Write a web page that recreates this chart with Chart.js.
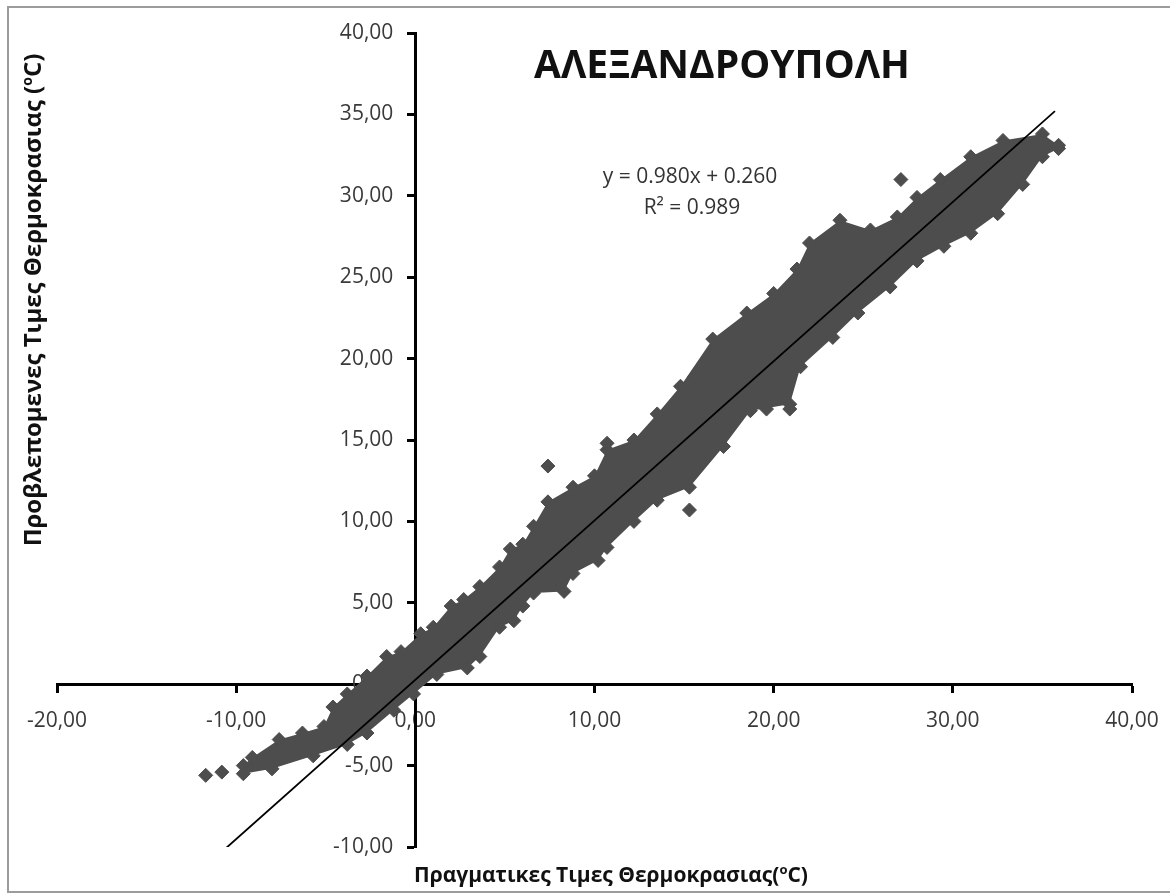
<!DOCTYPE html>
<html>
<head>
<meta charset="utf-8">
<script src="https://cdn.jsdelivr.net/npm/chart.js@4/dist/chart.umd.min.js"></script>
<style>
  html, body { margin: 0; padding: 0; background: #fff; }
  #wrap { width: 1170px; height: 895px; }
</style>
</head>
<body>
<div id="wrap"><canvas id="tempChart" width="1170" height="895"></canvas></div>
<script>
// upper edge of the point cloud (centres of the outermost diamonds)
const upperX = [-9.6, -9.1, -7.6, -6.3, -5.1, -4.6, -3.8, -2.7, -1.6, -0.8, 0.3, 1.0, 2.0, 2.7, 3.6, 4.7, 5.3, 6.0, 6.6, 7.4, 8.8, 10.0, 10.7, 12.2, 13.5, 14.8, 16.6, 18.5, 20.0, 21.3, 22.0, 23.7, 25.4, 26.9, 28.0, 29.3, 31.0, 32.8, 35.0, 35.9];
const upperY = [-5.0, -4.5, -3.4, -3.0, -2.6, -1.4, -0.6, 0.5, 1.7, 2.0, 3.1, 3.5, 4.8, 5.2, 6.0, 7.2, 8.3, 8.6, 9.7, 11.2, 12.1, 12.8, 14.4, 15.0, 16.6, 18.3, 21.2, 22.8, 24.0, 25.5, 27.1, 28.5, 27.9, 28.7, 29.9, 31.0, 32.4, 33.4, 33.8, 33.1];
// lower edge of the point cloud
const lowerX = [-9.6, -8.0, -5.7, -3.8, -2.7, -1.2, -0.1, 1.2, 2.9, 3.6, 4.7, 5.5, 6.0, 6.6, 8.3, 8.8, 10.2, 10.7, 12.2, 13.5, 15.3, 17.2, 18.7, 20.9, 21.5, 23.3, 24.7, 26.5, 28.0, 29.5, 31.0, 32.5, 33.9, 35.0, 35.9];
const lowerY = [-5.5, -5.2, -4.4, -3.7, -3.0, -1.6, -0.6, 0.6, 1.0, 1.7, 3.5, 3.9, 4.8, 5.6, 5.7, 6.8, 7.6, 8.4, 10.0, 11.3, 12.1, 14.6, 16.8, 17.2, 19.5, 21.3, 22.8, 24.4, 26.0, 26.9, 27.7, 28.9, 30.7, 32.4, 32.9];
// single points standing apart from the cloud
const outlierX = [-11.7, -10.8, 7.4, 10.7, 15.6, 15.3, 19.6, 20.9, 27.1];
const outlierY = [-5.6, -5.4, 13.4, 14.8, 18.9, 10.7, 16.9, 16.9, 31.0];
// trend line end points
const trendX = [-10.6, 35.7];
const trendY = [-10.1, 35.2];

const xTicks = [-20, -10, 0, 10, 20, 30, 40];
const yTicks = [-10, -5, 0, 5, 10, 15, 20, 25, 30, 35, 40];

const chartTitle = 'ΑΛΕΞΑΝΔΡΟΥΠΟΛΗ';
const equationLines = ['y = 0.980x + 0.260', 'R² = 0.989'];
const xTitle = ['Πραγματικες Τιμες Θερμοκρασιας(', 'C)'];
const yTitle = ['Προβλεπομενες Τιμες Θερμοκρασιας (', 'C)'];

const FONT = '"Open Sans", "Noto Sans", sans-serif';
const pointColor = '#4d4d4d';
const tickColor = '#3a3a3a';

const toPoints = (xs, ys) => xs.map((x, i) => ({ x: x, y: ys[i] }));
const fmt = v => v.toFixed(2).replace('.', ',');

// text with a small raised "o" between two parts, centred on x
function drawDegreeText(ctx, parts, x, y, size) {
    const small = Math.round(size * 0.6);
    ctx.font = 'bold ' + size + 'px ' + FONT;
    const w1 = ctx.measureText(parts[0]).width;
    const w3 = ctx.measureText(parts[1]).width;
    ctx.font = 'bold ' + small + 'px ' + FONT;
    const w2 = ctx.measureText('o').width;
    const left = x - (w1 + w2 + w3) / 2;
    ctx.textAlign = 'left';
    ctx.font = 'bold ' + size + 'px ' + FONT;
    ctx.fillText(parts[0], left, y);
    ctx.font = 'bold ' + small + 'px ' + FONT;
    ctx.fillText('o', left + w1, y - size * 0.38);
    ctx.font = 'bold ' + size + 'px ' + FONT;
    ctx.fillText(parts[1], left + w1 + w2, y);
}

const textPlugin = {
    id: 'chartText',
    beforeDraw(chart) {
        const ctx = chart.ctx;
        ctx.save();
        ctx.fillStyle = '#ffffff';
        ctx.fillRect(0, 0, chart.width, chart.height);
        ctx.strokeStyle = '#9c9c9c';
        ctx.lineWidth = 2;
        ctx.beginPath();
        ctx.moveTo(1170, 7);
        ctx.lineTo(8, 7);
        ctx.lineTo(8, 892);
        ctx.lineTo(1170, 892);
        ctx.stroke();
        ctx.restore();
    },
    // y tick labels sit left of the crossing axis, under the points
    beforeDatasetsDraw(chart) {
        const ctx = chart.ctx;
        const yScale = chart.scales.y;
        const axisX = chart.scales.x.getPixelForValue(0);
        ctx.save();
        ctx.font = '21px ' + FONT;
        ctx.fillStyle = tickColor;
        ctx.textAlign = 'right';
        ctx.textBaseline = 'middle';
        yTicks.forEach(v => ctx.fillText(fmt(v), axisX - 22, yScale.getPixelForValue(v)));
        ctx.restore();
    },
    afterDraw(chart) {
        const ctx = chart.ctx;
        ctx.save();
        ctx.fillStyle = '#111';
        ctx.textBaseline = 'alphabetic';
        ctx.textAlign = 'center';
        ctx.font = 'bold 39px ' + FONT;
        ctx.fillText(chartTitle, 722, 78);

        ctx.fillStyle = '#333';
        ctx.font = '21px ' + FONT;
        ctx.fillText(equationLines[0], 690, 183);
        ctx.fillText(equationLines[1], 692, 214);

        ctx.fillStyle = '#111';
        drawDegreeText(ctx, xTitle, 611, 882, 21);

        ctx.translate(41, 300);
        ctx.rotate(-Math.PI / 2);
        drawDegreeText(ctx, yTitle, 0, 0, 24);
        ctx.restore();
    }
};

const ctx = document.getElementById('tempChart').getContext('2d');
const tempChart = new Chart(ctx, {
    type: 'line',
    data: {
        datasets: [
            {
                label: 'trend',
                data: toPoints(trendX, trendY),
                borderColor: '#000',
                borderWidth: 1.8,
                pointRadius: 0,
                fill: false,
                order: 0
            },
            {
                label: 'outliers',
                data: toPoints(outlierX, outlierY),
                showLine: false,
                pointStyle: 'rectRot',
                pointRadius: 7,
                pointBackgroundColor: pointColor,
                pointBorderColor: pointColor,
                pointBorderWidth: 1,
                order: 1
            },
            {
                label: 'upper',
                data: toPoints(upperX, upperY),
                borderWidth: 0,
                borderColor: pointColor,
                backgroundColor: pointColor,
                pointStyle: 'rectRot',
                pointRadius: 7,
                pointBackgroundColor: pointColor,
                pointBorderColor: pointColor,
                pointBorderWidth: 1,
                fill: false,
                order: 2
            },
            {
                label: 'lower',
                data: toPoints(lowerX, lowerY),
                borderWidth: 0,
                borderColor: pointColor,
                backgroundColor: pointColor,
                pointStyle: 'rectRot',
                pointRadius: 7,
                pointBackgroundColor: pointColor,
                pointBorderColor: pointColor,
                pointBorderWidth: 1,
                fill: '-1',
                order: 3
            }
        ]
    },
    options: {
        responsive: false,
        animation: false,
        events: [],
        layout: { padding: { left: 57, right: 38, top: 33, bottom: 48 } },
        plugins: {
            legend: { display: false },
            tooltip: { enabled: false },
            filler: { propagate: false }
        },
        scales: {
            x: {
                type: 'linear',
                position: { y: 0 },
                min: -20,
                max: 40,
                afterBuildTicks: axis => { axis.ticks = xTicks.map(v => ({ value: v })); },
                // the outer labels may overhang the plot, like the original
                afterFit: axis => { axis.paddingLeft = 0; axis.paddingRight = 0; },
                border: { display: true, color: '#000', width: 3 },
                grid: { drawOnChartArea: false, drawTicks: true, tickLength: 7, tickWidth: 3, tickColor: '#000' },
                ticks: {
                    color: tickColor,
                    padding: 17,
                    maxRotation: 0,
                    font: { family: FONT, size: 21 },
                    callback: v => fmt(v)
                }
            },
            y: {
                type: 'linear',
                position: { x: 0 },
                min: -10,
                max: 40,
                afterBuildTicks: axis => { axis.ticks = yTicks.map(v => ({ value: v })); },
                border: { display: true, color: '#000', width: 3 },
                grid: { drawOnChartArea: false, drawTicks: true, tickLength: 7, tickWidth: 3, tickColor: '#000' },
                ticks: { display: false }
            }
        }
    },
    plugins: [textPlugin]
});
</script>
</body>
</html>
